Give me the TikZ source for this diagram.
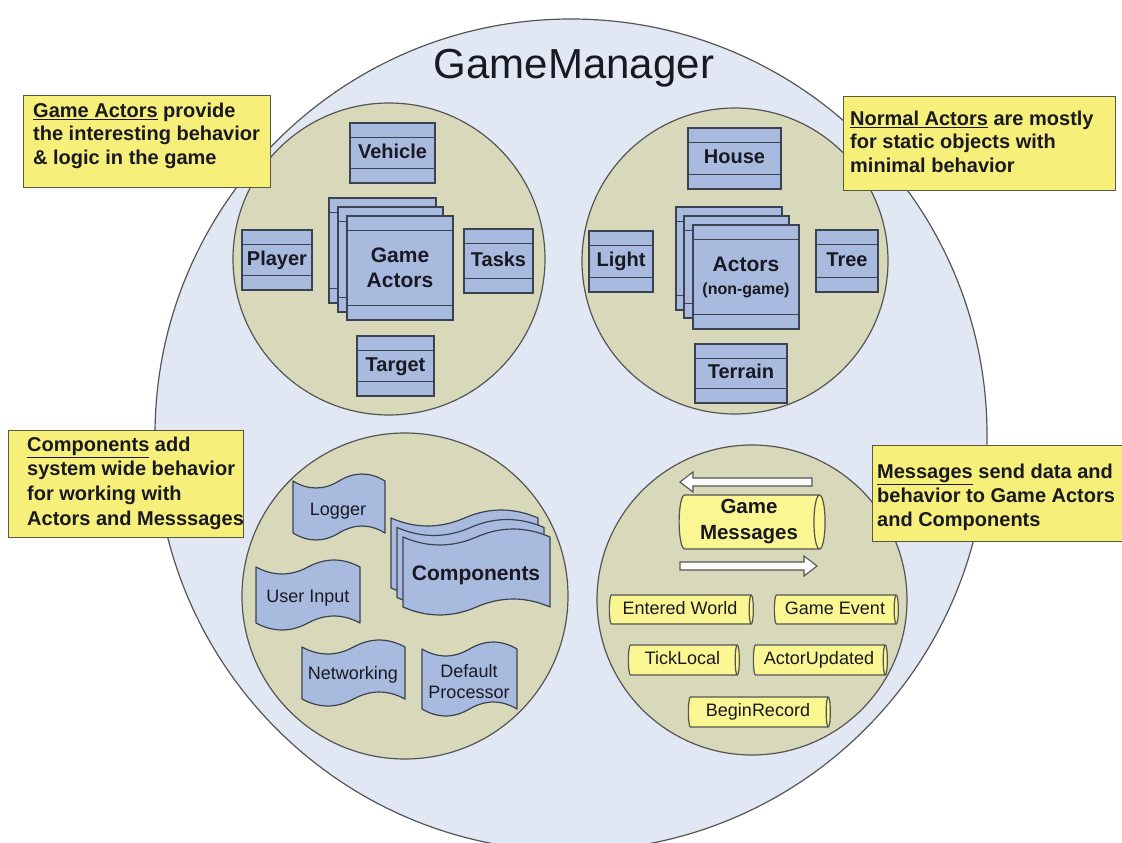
\documentclass[tikz,border=0pt]{standalone}
\usepackage{fontspec}
\setmainfont{Liberation Sans}
\usetikzlibrary{shapes.geometric,calc}
\definecolor{bigfill}{RGB}{225,232,243}
\definecolor{circfill}{RGB}{216,216,186}
\definecolor{clsfill}{RGB}{168,186,221}
\definecolor{callfill}{RGB}{246,239,122}
\definecolor{cylfill}{RGB}{250,246,145}
\definecolor{outl}{RGB}{85,85,85}
\definecolor{clsedge}{RGB}{60,66,82}
\definecolor{calledge}{RGB}{90,88,64}
\definecolor{txt}{RGB}{25,25,35}
\newcommand\complines[1]{\draw[clsedge,line width=1.3pt] ([yshift=-15pt]#1.north west) -- ([yshift=-15pt]#1.north east) ([yshift=15pt]#1.south west) -- ([yshift=15pt]#1.south east);}
% wavy document shape: #1 cx, #2 cy, #3 w, #4 h, #5 amplitude
\newcommand\wavebox[5]{%
 \draw[wave] ({#1-#3/2},{#2-#4/2}) .. controls ({#1-#3/3},{#2-#4/2+1.33*#5}) and ({#1-#3/6},{#2-#4/2+1.33*#5}) .. ({#1},{#2-#4/2})
  .. controls ({#1+#3/6},{#2-#4/2-1.33*#5}) and ({#1+#3/3},{#2-#4/2-1.33*#5}) .. ({#1+#3/2},{#2-#4/2})
  -- ({#1+#3/2},{#2+#4/2})
  .. controls ({#1+#3/3},{#2+#4/2-1.33*#5}) and ({#1+#3/6},{#2+#4/2-1.33*#5}) .. ({#1},{#2+#4/2})
  .. controls ({#1-#3/6},{#2+#4/2+1.33*#5}) and ({#1-#3/3},{#2+#4/2+1.33*#5}) .. ({#1-#3/2},{#2+#4/2}) -- cycle;}
\begin{document}
\begin{tikzpicture}[x=1pt,y=-1pt,
  every node/.style={inner sep=0pt, text=txt},
  bigc/.style={circle, draw=outl, line width=1.2pt, fill=bigfill},
  inc/.style={circle, draw=outl, line width=1.2pt, fill=circfill},
  cls/.style={rectangle, draw=clsedge, line width=1.3pt, fill=clsfill, font=\fontsize{20}{22}\bfseries, align=center},
  clst/.style={cls, text height=14.5pt, text depth=4.2pt},
  wave/.style={draw=clsedge, line width=1.2pt, fill=clsfill, line join=round},
  wavetext/.style={font=\fontsize{18}{21}\selectfont, align=center},
  cyl/.style={cylinder, shape border rotate=0, aspect=0.25, draw=outl, line width=1.2pt, fill=cylfill, font=\fontsize{18}{21}\selectfont},
  cyls/.style={cyl, text height=13pt, text depth=3.8pt},
  callout/.style={rectangle, draw=calledge, line width=1.4pt, fill=callfill},
  calltext/.style={anchor=north west, align=left, font=\fontsize{20}{24}\bfseries},
  blockarrow/.style={draw=outl, line width=1.1pt, fill=white!92!bigfill}
]
\useasboundingbox (0,0) rectangle (1122,843);
\clip (0,0) rectangle (1122,843);
% GameManager
\node[bigc, minimum size=832pt] (gm) at (571,435) {};
\node[font=\fontsize{42}{46}\selectfont, anchor=base] (title) at (574,78) {GameManager};
% inner circles
\node[inc, minimum size=312pt] (cga) at (389,259) {};
\node[inc, minimum size=306pt] (cna) at (735,261) {};
\node[inc, minimum size=326pt] (cco) at (405,596) {};
\node[inc, minimum size=310pt] (cme) at (752,600) {};
% Game Actors circle
\node[clst, minimum width=85pt, minimum height=60pt] (veh) at (392.5,153) {Vehicle}; \complines{veh}
\node[clst, minimum width=70pt, minimum height=60pt] (ply) at (277,260) {Player}; \complines{ply}
\node[clst, minimum width=69pt, minimum height=64pt] (tsk) at (498.5,261) {Tasks}; \complines{tsk}
\node[clst, minimum width=77pt, minimum height=60pt] (tgt) at (395.5,366) {Target}; \complines{tgt}
\node[cls, minimum width=107pt, minimum height=105pt] (ga3) at (382.5,250.5) {}; \complines{ga3}
\node[cls, minimum width=105pt, minimum height=105pt] (ga2) at (390.5,259.5) {}; \complines{ga2}
\node[cls, minimum width=106pt, minimum height=104pt, font=\fontsize{21}{25}\bfseries] (ga1) at (400,268) {Game\\Actors}; \complines{ga1}
% Normal Actors circle
\node[clst, minimum width=93pt, minimum height=61pt] (hou) at (734.5,158.5) {House}; \complines{hou}
\node[clst, minimum width=64pt, minimum height=61pt] (lig) at (621,261.5) {Light}; \complines{lig}
\node[clst, minimum width=62pt, minimum height=62pt] (tre) at (847,261) {Tree}; \complines{tre}
\node[clst, minimum width=92pt, minimum height=59pt] (ter) at (741,373.5) {Terrain}; \complines{ter}
\node[cls, minimum width=106pt, minimum height=103pt] (na3) at (729,258.5) {}; \complines{na3}
\node[cls, minimum width=105pt, minimum height=102pt] (na2) at (736.5,267) {}; \complines{na2}
\node[cls, minimum width=106pt, minimum height=104pt, font=\fontsize{21}{23}\bfseries] (na1) at (746,277) {Actors\\{\fontsize{16}{18}\selectfont (non-game)}}; \complines{na1}
% Components circle
\wavebox{339}{507}{92}{52}{7}
\node[wavetext] (log) at (338,511) {Logger};
\wavebox{308}{595}{104}{56}{7}
\node[wavetext] (usr) at (308,598) {User Input};
\wavebox{353.5}{673}{103}{52}{7}
\node[wavetext] (net) at (353,675) {Networking};
\wavebox{469.5}{679}{95}{60}{7}
\node[wavetext] (dfp) at (469,682) {Default\\Processor};
\wavebox{464.5}{553}{147}{70}{8}
\wavebox{470.5}{562.5}{147}{70}{8}
\wavebox{476.5}{572}{147}{70}{8}
\node[wavetext, font=\fontsize{21}{24}\bfseries] (comp) at (476,575) {Components};
% Messages circle
\draw[blockarrow] (680,482) -- (693,472) -- (693,478) -- (812,478) -- (812,486) -- (693,486) -- (693,492) -- cycle;
\node[cyl, minimum height=146pt, minimum width=54pt, align=center, font=\fontsize{20.5}{26}\bfseries] (gmsg) at (749,522) {Game\\Messages};
\draw[blockarrow] (817,566) -- (804,556) -- (804,562) -- (680,562) -- (680,570) -- (804,570) -- (804,576) -- cycle;
\node[cyls, minimum height=144pt, minimum width=29pt] (ent) at (680,609.5) {Entered World};
\node[cyls, minimum height=124pt, minimum width=29pt] (gev) at (835,609.5) {Game Event};
\node[cyls, minimum height=111pt, minimum width=30pt] (tick) at (682.5,660) {TickLocal};
\node[cyls, minimum height=134pt, minimum width=30pt] (aup) at (819,660) {ActorUpdated};
\node[cyls, minimum height=142pt, minimum width=30pt] (brec) at (758,712) {BeginRecord};
% callouts
\node[callout, anchor=north west, minimum width=247pt, minimum height=92pt] (c1) at (23,95) {};
\node[calltext, font=\fontsize{20}{23.5}\bfseries] (t1) at (33,102.5) {\underline{Game Actors} provide\\the interesting behavior\\\& logic in the game};
\node[callout, anchor=north west, minimum width=272pt, minimum height=94pt] (c2) at (843,96) {};
\node[calltext, font=\fontsize{20}{23.5}\bfseries] (t2) at (850,110.5) {\underline{Normal Actors} are mostly\\for static objects with\\minimal behavior};
\node[callout, anchor=north west, minimum width=235pt, minimum height=107pt] (c3) at (8,430) {};
\node[calltext, font=\fontsize{20}{24.7}\bfseries] (t3) at (27,436.5) {\underline{Components} add\\system wide behavior\\for working with\\Actors and Messsages};
\node[callout, anchor=north west, minimum width=260pt, minimum height=96pt] (c4) at (872,445) {};
\node[calltext, font=\fontsize{20}{24}\bfseries] (t4) at (877,463.5) {\underline{Messages} send data and\\behavior to Game Actors\\and Components};
\end{tikzpicture}
\end{document}
